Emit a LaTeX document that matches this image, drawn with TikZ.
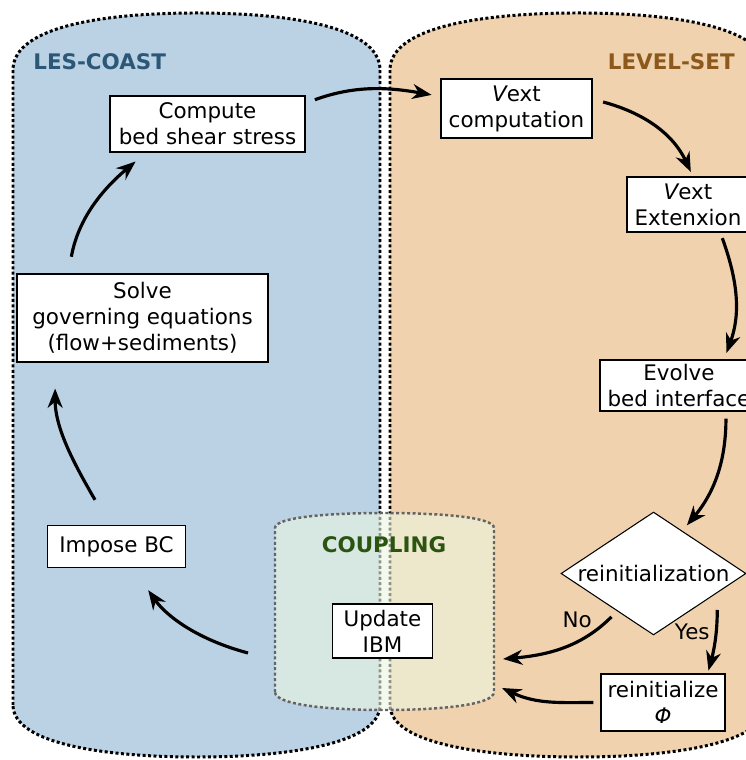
\documentclass[tikz,border=0pt]{standalone}
\usepackage{fontspec}
\setmainfont{DejaVu Sans}
\usetikzlibrary{shapes.geometric, arrows.meta}
\definecolor{CoastBlue}{RGB}{187,210,229}
\definecolor{LevelSand}{RGB}{240,211,174}
\definecolor{CouplingTint}{RGB}{235,245,225}
\definecolor{CoastText}{RGB}{43,88,119}
\definecolor{LevelText}{RGB}{140,88,28}
\definecolor{CouplingText}{RGB}{42,84,16}
\definecolor{BorderGray}{RGB}{100,100,100}

\begin{document}
\begin{tikzpicture}[x=0.02cm, y=0.02cm,
    box/.style 2 args={rectangle, draw=black, fill=white, line width=0.6pt, align=center, inner sep=2pt, minimum width=#1, minimum height=#2, font=\fontsize{12.2}{14.8}\selectfont},
    decision/.style={diamond, draw=black, fill=white, line width=0.6pt, aspect=1.5, inner sep=0pt, minimum width=3.7cm, minimum height=2.46cm, font=\fontsize{12.2}{14.8}\selectfont},
    region/.style={line width=1.7pt, dash pattern=on 1.7pt off 1.4pt},
    title/.style={inner sep=0pt, font=\fontsize{12.2}{14.8}\selectfont\bfseries},
    tag/.style={font=\fontsize{12.2}{14.8}\selectfont},
    flow/.style={->, >={Stealth[length=11pt, width=8.5pt, inset=3.5pt]}, line width=1.8pt, shorten >=0.16cm, shorten <=0.16cm}
]
\useasboundingbox (0,0) rectangle (746,760);

% the two solvers
\draw[region, fill=CoastBlue] (13,55) -- (13,690) .. controls (13,735) and (110,747) .. (196.5,747)
    .. controls (283,747) and (380,735) .. (380,690) -- (380,55)
    .. controls (380,15) and (283,3) .. (196.5,3) .. controls (110,3) and (13,15) .. (13,55) -- cycle;
\draw[region, fill=LevelSand] (390,55) -- (390,690) .. controls (390,735) and (490,747) .. (578,747)
    .. controls (666,747) and (766,735) .. (766,690) -- (766,55)
    .. controls (766,15) and (666,3) .. (578,3) .. controls (490,3) and (390,15) .. (390,55) -- cycle;

% coupling zone on top
\draw[region, line width=1.4pt, draw=BorderGray, fill=CouplingTint, fill opacity=0.6]
    (275,68) -- (275,232) .. controls (275,243) and (330,247) .. (384.5,247)
    .. controls (439,247) and (494,243) .. (494,232) -- (494,68)
    .. controls (494,55) and (439,50) .. (384.5,50) .. controls (330,50) and (275,55) .. (275,68) -- cycle;
\coordinate (cplNo) at (503,101);
\coordinate (cplBack) at (502,72);
\coordinate (cplOut) at (248,107);

\node[title, text=CoastText, anchor=west] (coastlabel) at (33,698) {LES-COAST};
\node[title, text=LevelText, anchor=east] (levellabel) at (735,698) {LEVEL-SET};
\node[title, text=CouplingText] (couplinglabel) at (384,215) {COUPLING};

\node[box={3.9cm}{1.12cm}] (compute) at (207.5,636) {Compute\\bed shear stress};
\node[box={3.02cm}{1.18cm}] (vcomp) at (516.5,651.5) {{\itshape V}ext\\computation};
\node[box={2.44cm}{1.1cm}] (vext) at (688,555.5) {{\itshape V}ext\\Extenxion};
\node[box={3.16cm}{1.02cm}] (evolve) at (679,374.5) {Evolve\\bed interface};
\node[decision] (reinitq) at (653.5,186.5) {reinitialization};
\node[box={2.48cm}{1.14cm}] (reinit) at (663,57.5) {reinitialize\\{\itshape Φ}};
\node[box={2.0cm}{1.08cm}] (ibm) at (382.5,129) {Update\\IBM};
\node[box={2.76cm}{0.84cm}] (impose) at (116.5,213.5) {Impose BC};
\node[box={5.02cm}{1.76cm}] (solve) at (142.5,442) {Solve\\governing equations\\(flow+sediments)};

\draw[flow, shorten <=0.2cm, shorten >=0.18cm] (compute.12) to[out=20, in=170] (vcomp.171);
\draw[flow, shorten <=0.22cm, shorten >=0.1cm] (vcomp.7) to[out=-15, in=115] (vext.80);
\draw[flow, shorten <=0.12cm, shorten >=0.14cm] (vext.-41) to[out=-70, in=70] (evolve.30);
\draw[flow, shorten <=0.14cm, shorten >=0.14cm] (evolve.-29) to[out=-90, in=50] (reinitq.56);
\draw[flow, shorten <=0.34cm, shorten >=0.06cm] (reinitq.-17) to[out=-90, in=75]
    node[tag, at start, xshift=-0.5cm, yshift=-0.78cm] {Yes} (reinit.33);
\draw[flow, shorten >=0pt] (reinitq.-134) to[out=225, in=5]
    node[tag, at start, xshift=-0.8cm, yshift=-0.18cm] {No} (cplNo);
\draw[flow, shorten <=0.14cm, shorten >=0pt] (reinit.west) to[out=180, in=-25] (cplBack);
\draw[flow, shorten <=0pt, shorten >=0.54cm] (cplOut) to[out=165, in=-55] (impose.-53);
\draw[flow, shorten <=0.58cm, shorten >=0.52cm] (impose.108) to[out=120, in=-90] (solve.-153);
\draw[flow, shorten <=0.34cm, shorten >=0.28cm] (solve.149) to[out=80, in=220] (compute.-155);
\end{tikzpicture}
\end{document}
